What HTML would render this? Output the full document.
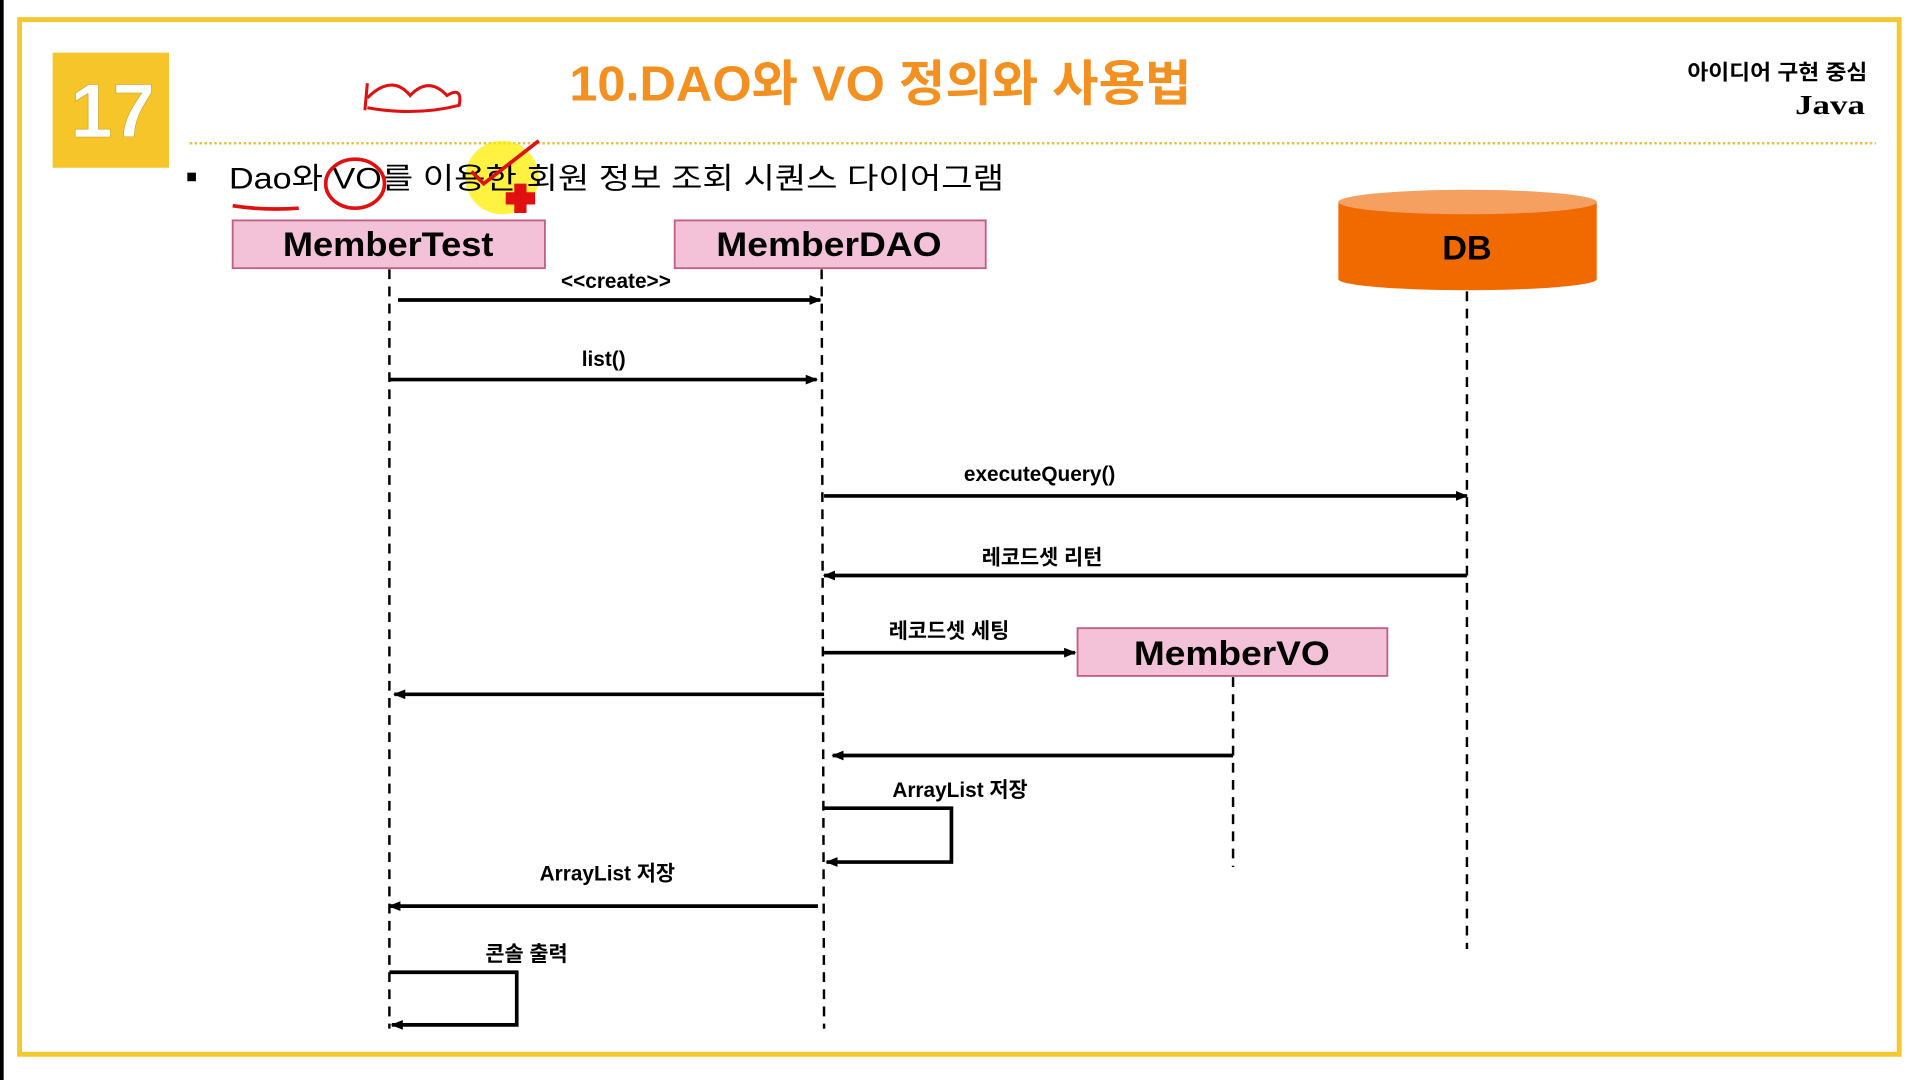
<!DOCTYPE html>
<html><head><meta charset="utf-8"><style>
html,body{margin:0;padding:0;background:#fff;width:1920px;height:1080px;overflow:hidden}
svg{display:block}
text{font-family:"Liberation Sans","Noto Sans CJK KR",sans-serif}
</style></head><body>
<svg width="1920" height="1080" viewBox="0 0 1568 882" xmlns="http://www.w3.org/2000/svg">
<defs>
<marker id="a" markerWidth="10" markerHeight="8" refX="9" refY="4" orient="auto" markerUnits="userSpaceOnUse"><path d="M0,0 L10,4 L0,8 Z" fill="#000"/></marker>
</defs>
<rect width="1568" height="882" fill="#fff"/>
<rect x="0" y="0" width="3" height="882" fill="#000"/>
<rect x="16" y="16" width="1535" height="845" fill="none" stroke="#f5c830" stroke-width="4"/>
<rect x="43" y="43" width="95" height="94" fill="#f6c52a"/>
<text x="92" y="112" font-size="62" font-weight="bold" fill="#fff" text-anchor="middle" stroke="#c9a020" stroke-width="0.5">17</text>
<text x="465" y="82" font-size="40" font-weight="bold" fill="#f39020" textLength="508" lengthAdjust="spacingAndGlyphs">10.DAO와 VO 정의와 사용법</text>
<text x="1378" y="65" font-size="17" font-weight="bold" textLength="147" lengthAdjust="spacingAndGlyphs">아이디어 구현 중심</text>
<text x="1466" y="93" font-size="22" font-weight="bold" textLength="57" lengthAdjust="spacingAndGlyphs" style="font-family:'Liberation Serif',serif">Java</text>
<line x1="155" y1="117" x2="1532" y2="117" stroke="#e8c040" stroke-width="2" stroke-dasharray="2,2"/>
<rect x="153" y="141" width="7" height="7" fill="#000"/>
<circle cx="410" cy="145" r="30" fill="#ffee00" opacity="0.75"/>
<text x="187" y="154" font-size="24" textLength="633" lengthAdjust="spacingAndGlyphs">Dao와 VO를 이용한 회원 정보 조회 시퀀스 다이어그램</text>
<!-- annotations -->
<ellipse cx="290" cy="150" rx="24" ry="20" fill="none" stroke="#e01010" stroke-width="3"/>
<path d="M190,168 Q215,172 244,170" stroke="#e01010" stroke-width="3" fill="none"/>
<path d="M385,140 L395,150 L440,115" stroke="#e01010" stroke-width="3" fill="none"/>
<path d="M420,150 h10 v7 h7 v10 h-7 v7 h-10 v-7 h-7 v-10 h7z" fill="#e01010"/>
<path d="M298,90 L300,68 M300,80 Q320,60 335,78 Q350,62 365,78 Q378,70 375,86 Q340,95 300,88" stroke="#e01010" stroke-width="2.5" fill="none"/>
<!-- boxes -->
<rect x="190" y="180" width="255" height="39" fill="#f4c2d8" stroke="#c06080" stroke-width="1.5"/>
<text x="231" y="209" font-size="28" font-weight="bold" textLength="172" lengthAdjust="spacingAndGlyphs">MemberTest</text>
<rect x="551" y="180" width="254" height="39" fill="#f4c2d8" stroke="#c06080" stroke-width="1.5"/>
<text x="585" y="209" font-size="28" font-weight="bold" textLength="184" lengthAdjust="spacingAndGlyphs">MemberDAO</text>
<rect x="880" y="513" width="253" height="39" fill="#f4c2d8" stroke="#c06080" stroke-width="1.5"/>
<text x="926" y="543" font-size="28" font-weight="bold" textLength="160" lengthAdjust="spacingAndGlyphs">MemberVO</text>
<!-- DB -->
<rect x="1093" y="165" width="211" height="63" fill="#f06a00"/>
<ellipse cx="1198.5" cy="228" rx="105.5" ry="9" fill="#f06a00"/>
<ellipse cx="1198.5" cy="165" rx="105.5" ry="10" fill="#f5a060"/>
<text x="1198" y="212" font-size="28" font-weight="bold" text-anchor="middle">DB</text>
<!-- lifelines -->
<g stroke="#000" stroke-width="2" stroke-dasharray="8,6" fill="none">
<line x1="318" y1="220" x2="318" y2="840"/>
<line x1="671" y1="220" x2="673" y2="840"/>
<line x1="1198" y1="238" x2="1198" y2="775"/>
<line x1="1007" y1="553" x2="1007" y2="708"/>
</g>
<g stroke="#000" stroke-width="3" fill="none" marker-end="url(#a)">
<line x1="325" y1="245" x2="670" y2="245"/>
<line x1="318" y1="310" x2="667" y2="310"/>
<line x1="673" y1="405" x2="1198" y2="405"/>
<line x1="1198" y1="470" x2="673" y2="470"/>
<line x1="673" y1="533" x2="878" y2="533"/>
<line x1="673" y1="567" x2="322" y2="567"/>
<line x1="1007" y1="617" x2="680" y2="617"/>
<polyline points="673,660 777,660 777,704 675,704"/>
<line x1="668" y1="740" x2="318" y2="740"/>
<polyline points="318,794 422,794 422,837 320,837"/>
</g>
<g font-size="17" font-weight="bold" text-anchor="middle">
<text x="503" y="235">&lt;&lt;create&gt;&gt;</text>
<text x="493" y="299">list()</text>
<text x="849" y="393">executeQuery()</text>
<text x="851" y="461">레코드셋 리턴</text>
<text x="775" y="521">레코드셋 세팅</text>
<text x="784" y="651">ArrayList 저장</text>
<text x="496" y="719">ArrayList 저장</text>
<text x="430" y="785">콘솔 출력</text>
</g>
</svg>
</body></html>
